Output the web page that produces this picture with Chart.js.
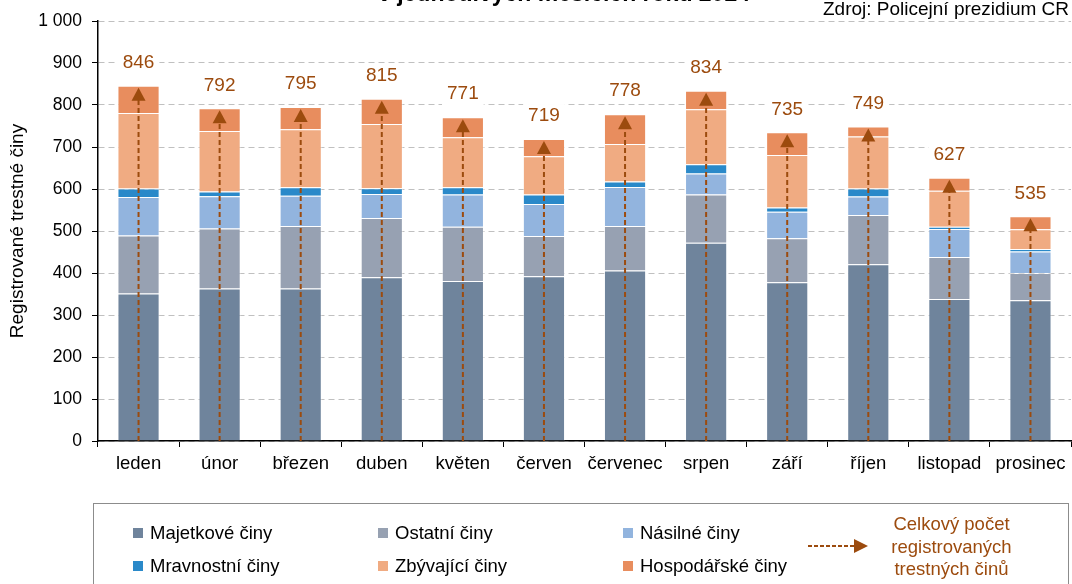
<!DOCTYPE html>
<html>
<head>
<meta charset="utf-8">
<script src="https://cdn.jsdelivr.net/npm/chart.js@4/dist/chart.umd.min.js"></script>
<style>
    html, body { margin: 0; padding: 0; background: #fff; }
    body { width: 1072px; height: 584px; position: relative; overflow: hidden; font-family: "Liberation Sans", Arial, sans-serif; }
    #chart { position: absolute; left: 0; top: 0; }
    .title { position: absolute; left: 264px; width: 600px; top: -20px; text-align: center; font-weight: bold; font-size: 23px; color: #000; white-space: nowrap; }
    .source { position: absolute; right: 3px; top: -2px; font-size: 19px; color: #000; }
    .legend { position: absolute; left: 93px; top: 503px; width: 976px; height: 100px; border: 1px solid #8c8c8c; box-sizing: border-box; }
    .item { position: absolute; font-size: 18.5px; color: #000; white-space: nowrap; }
    .item i { position: absolute; left: -17px; top: 6px; width: 10px; height: 10px; }
    .total { position: absolute; left: 780px; top: 9px; width: 155px; text-align: center; font-size: 18.5px; line-height: 22.5px; color: #9c4b0e; }
    .arrow { position: absolute; left: 714px; top: 35px; width: 60px; height: 14px; }
</style>
</head>
<body>
<canvas id="chart" width="1072" height="584"></canvas>
<div class="title">v jednotlivých měsících roku 2024</div>
<div class="source">Zdroj: Policejní prezidium CR</div>
<div class="legend" id="legend"></div>

<script>
const months = ['leden', 'únor', 'březen', 'duben', 'květen', 'červen', 'červenec', 'srpen', 'září', 'říjen', 'listopad', 'prosinec'];

const majetkove = [351, 363, 363, 390, 381, 392, 406, 472, 378, 421, 338, 335];
const ostatni = [138, 143, 149, 141, 129, 96, 106, 115, 105, 117, 100, 65];
const nasilne = [92, 77, 72, 57, 77, 76, 93, 50, 63, 44, 67, 51];
const mravnostni = [20, 11, 20, 14, 17, 23, 13, 22, 10, 19, 5, 6];
const zbyvajici = [180, 144, 138, 153, 119, 91, 89, 131, 125, 124, 86, 47];
const hospodarske = [65, 54, 53, 60, 48, 41, 71, 44, 54, 24, 31, 31];
const totals = [846, 792, 795, 815, 771, 719, 778, 834, 735, 749, 627, 535];

const yTicks = [0, 100, 200, 300, 400, 500, 600, 700, 800, 900, 1000];

const seriesColours = ['#6f849c', '#97a1b2', '#92b4de', '#2a89c9', '#f0ab82', '#e88d5e'];
const seriesNames = ['Majetkové činy', 'Ostatní činy', 'Násilné činy', 'Mravnostní činy', 'Zbývající činy', 'Hospodářské činy'];
const seriesData = [majetkove, ostatni, nasilne, mravnostni, zbyvajici, hospodarske];
const arrowColour = '#9c4b0e';
const fontFamily = '"Liberation Sans", Arial, sans-serif';

const totalArrows = {
    id: 'totalArrows',
    afterDatasetsDraw(chart) {
        const ctx = chart.ctx;
        const x = chart.scales.x;
        const y = chart.scales.y;
        ctx.save();
        totals.forEach((total, i) => {
            const px = x.getPixelForValue(i);
            const base = y.getPixelForValue(0);
            const top = y.getPixelForValue(total);
            const tip = top + 2;
            // dashed shaft
            ctx.strokeStyle = arrowColour;
            ctx.lineWidth = 2;
            ctx.setLineDash([5, 3]);
            ctx.beginPath();
            ctx.moveTo(px, base);
            ctx.lineTo(px, tip + 12);
            ctx.stroke();
            ctx.setLineDash([]);
            // head
            ctx.fillStyle = arrowColour;
            ctx.beginPath();
            ctx.moveTo(px, tip);
            ctx.lineTo(px - 7, tip + 13);
            ctx.lineTo(px + 7, tip + 13);
            ctx.closePath();
            ctx.fill();
            // value label
            ctx.font = '19px ' + fontFamily;
            ctx.textAlign = 'center';
            ctx.textBaseline = 'middle';
            const w = ctx.measureText(total).width + 10;
            ctx.fillStyle = '#fff';
            ctx.fillRect(px - w / 2, top - 35, w, 24);
            ctx.fillStyle = arrowColour;
            ctx.fillText(total, px, top - 23);
        });
        ctx.restore();
    }
};

new Chart(document.getElementById('chart'), {
    type: 'bar',
    data: {
        labels: months,
        datasets: seriesData.map((values, i) => ({
            label: seriesNames[i],
            data: values,
            backgroundColor: seriesColours[i],
            borderColor: 'rgba(255,255,255,0.45)',
            borderWidth: 1,
            categoryPercentage: 1,
            barPercentage: 0.52
        }))
    },
    options: {
        responsive: false,
        animation: false,
        layout: { padding: { left: 0, right: 1, top: 21, bottom: 0 } },
        plugins: {
            legend: { display: false },
            tooltip: { enabled: false }
        },
        scales: {
            x: {
                stacked: true,
                afterFit: scale => { scale.height = 143; },
                grid: { drawOnChartArea: false, drawTicks: true, tickLength: 6, tickColor: '#000', offset: true },
                border: { color: '#000', width: 1.5 },
                ticks: { color: '#000', padding: 6, font: { family: fontFamily, size: 18.5 } }
            },
            y: {
                stacked: true,
                min: 0,
                max: 1000,
                afterFit: scale => { scale.width = 98; },
                afterBuildTicks: scale => { scale.ticks = yTicks.map(v => ({ value: v })); },
                grid: { color: '#c0c0c0', lineWidth: 1, tickLength: 6, tickColor: '#000', tickWidth: 1 },
                border: { color: '#000', width: 1.5, dash: [6, 4] },
                ticks: {
                    color: '#000',
                    padding: 10,
                    font: { family: fontFamily, size: 17.5 },
                    callback: v => v >= 1000 ? '1 000' : String(v)
                },
                title: {
                    display: true,
                    text: 'Registrované trestné činy',
                    color: '#000',
                    padding: { top: 6, bottom: 0 },
                    font: { family: fontFamily, size: 19 }
                }
            }
        }
    },
    plugins: [totalArrows]
});

// legend
const legend = document.getElementById('legend');
const colX = [56, 301, 546];
seriesNames.forEach((name, i) => {
    const el = document.createElement('div');
    el.className = 'item';
    el.style.left = colX[i % 3] + 'px';
    el.style.top = (i < 3 ? 18 : 51) + 'px';
    el.innerHTML = '<i style="background:' + seriesColours[i] + '"></i>' + name;
    legend.appendChild(el);
});
legend.insertAdjacentHTML('beforeend',
    '<svg class="arrow" viewBox="0 0 60 14"><line x1="0" y1="7" x2="47" y2="7" stroke="' + arrowColour + '" stroke-width="2" stroke-dasharray="4,2"/><polygon points="46,0 60,7 46,14" fill="' + arrowColour + '"/></svg>' +
    '<div class="total">Celkový počet<br>registrovaných<br>trestných činů</div>');
</script>
</body>
</html>
